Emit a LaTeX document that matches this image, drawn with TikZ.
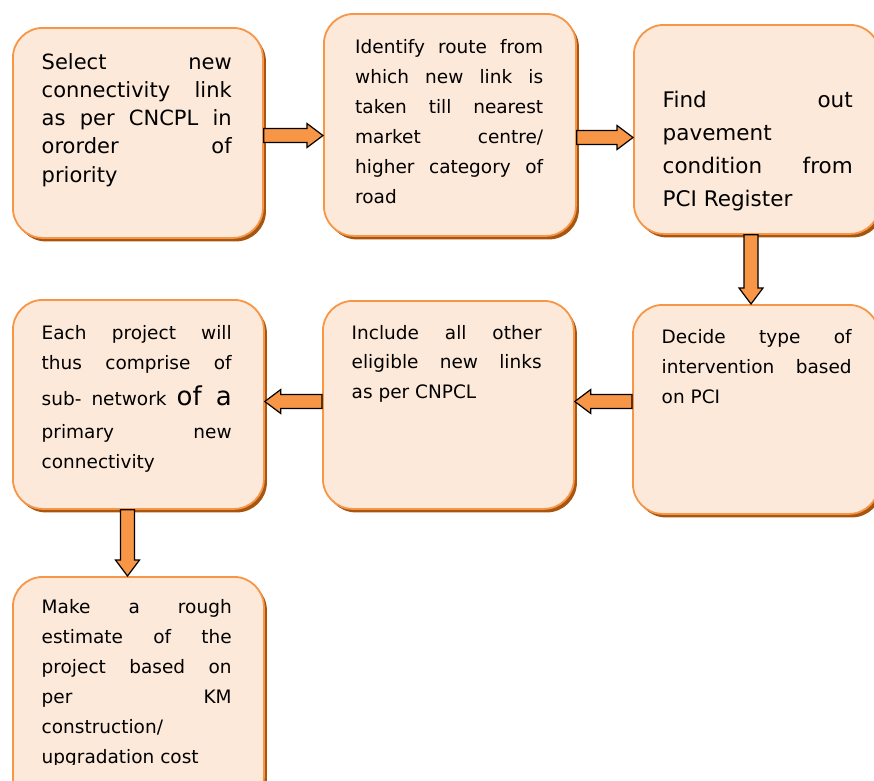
\documentclass[tikz,border=0pt]{standalone}
\usepackage{fontspec}
\setmainfont{DejaVu Sans}
\usetikzlibrary{calc,shadows}
\definecolor{boxfill}{HTML}{FDE9D9}
\definecolor{boxline}{HTML}{F79646}
\definecolor{boxshadow}{HTML}{A8550F}
\definecolor{arrowfill}{HTML}{F79646}
\newcommand\JL[1]{\hbox to 190pt{#1}}
\newcommand\LL[1]{\hbox{#1}}
\newcommand\blockarrow[2]{%
  \coordinate (hb) at ($(#2)!16pt!(#1)$);
  \draw[arrowstyle] ($(#1)!7pt!90:(#2)$) -- ($(hb)!7pt!90:(#2)$) -- ($(hb)!12pt!90:(#2)$) -- (#2)
    -- ($(hb)!12pt!-90:(#2)$) -- ($(hb)!7pt!-90:(#2)$) -- ($(#1)!7pt!-90:(#2)$) -- cycle;}
\begin{document}
\begin{tikzpicture}[x=1pt,y=-1pt,
  flowbox/.style={draw=boxline, line width=1.8pt, fill=boxfill, rounded corners=30pt,
    anchor=north west, inner sep=0pt,
    drop shadow={shadow xshift=3pt, shadow yshift=-3.5pt, fill=boxshadow, opacity=1}},
  txt/.style={anchor=base west, inner sep=0pt, text=black},
  small/.style={font=\fontsize{18.5}{30}\selectfont},
  arrowstyle/.style={draw=black, line width=1.2pt, fill=arrowfill, line join=miter}]
\clip (0,0) rectangle (874,780);
\fill[white] (0,0) rectangle (874,780);

% boxes
\node[flowbox, minimum width=250pt, minimum height=210pt] (b1) at (12,27) {};
\node[flowbox, minimum width=252pt, minimum height=222pt] (b2) at (323,13) {};
\node[flowbox, minimum width=246pt, minimum height=209pt] (b3) at (633,24) {};
\node[flowbox, minimum width=246pt, minimum height=209pt] (b4) at (632,304) {};
\node[flowbox, minimum width=251pt, minimum height=208pt] (b5) at (322,300) {};
\node[flowbox, minimum width=251pt, minimum height=209pt] (b6) at (12,299) {};
\node[flowbox, minimum width=251pt, minimum height=230pt] (b7) at (12,576) {};

% texts
\node[txt, font=\fontsize{21}{28.3}\selectfont] (t1) at (41.5,69) {\vtop{%
  \JL{Select new}\JL{connectivity link}\JL{as per CNCPL in}\JL{ororder of}\LL{priority}}};
\node[txt, small] (t2) at (355,53) {\vtop{%
  \hbox to 188pt{Identify route from}\hbox to 188pt{which new link is}\hbox to 188pt{taken till nearest}%
  \hbox to 188pt{market centre/}\hbox to 188pt{higher category of}\LL{road}}};
\node[txt, font=\fontsize{21.5}{33}\selectfont] (t3) at (662.5,107) {\vtop{%
  \JL{Find out}\JL{pavement\hfil}\JL{condition from}\LL{PCI Register}}};
\node[txt, small] (t4) at (661.5,343) {\vtop{%
  \JL{Decide type of}\JL{intervention based}\LL{on PCI}}};
\node[txt, font=\fontsize{18.5}{29.5}\selectfont] (t5) at (351.5,339) {\vtop{%
  \JL{Include all other}\JL{eligible new links}\LL{as per CNPCL}}};
\node[txt, small] (t6) at (41.5,339) {\vtop{%
  \JL{Each project will}\JL{thus comprise of}\vskip6pt
  \JL{sub- network {\fontsize{26}{30}\selectfont of a}}\vskip3pt
  \JL{primary new}\LL{connectivity}}};
\begin{scope}
\clip (0,0) rectangle (874,764);
\node[txt, small] (t7) at (41.5,613) {\vtop{%
  \JL{Make a rough}\JL{estimate of the}\JL{project based on}\JL{per KM}%
  \JL{construction/\hfil}\LL{upgradation cost}}};
\end{scope}

% connector end points
\coordinate (a1s) at (b1.east |- 0,135.5);
\coordinate (a1e) at (b2.west |- 0,135.5);
\coordinate (a2s) at (b2.east |- 0,137.5);
\coordinate (a2e) at (b3.west |- 0,137.5);
\coordinate (a3s) at (b3.south -| 751,0);
\coordinate (a3e) at (b4.north -| 751,0);
\coordinate (a4s) at (b4.west |- 0,401.5);
\coordinate (a4e) at (b5.east |- 0,401.5);
\coordinate (a5s) at (b5.west |- 0,401.5);
\coordinate (a5e) at (b6.east |- 0,401.5);
\coordinate (a6s) at (b6.south -| 127.5,0);
\coordinate (a6e) at (b7.north -| 127.5,0);

\blockarrow{a1s}{a1e}
\blockarrow{a2s}{a2e}
\blockarrow{a3s}{a3e}
\blockarrow{a4s}{a4e}
\blockarrow{a5s}{a5e}
\blockarrow{a6s}{a6e}
\end{tikzpicture}
\end{document}
